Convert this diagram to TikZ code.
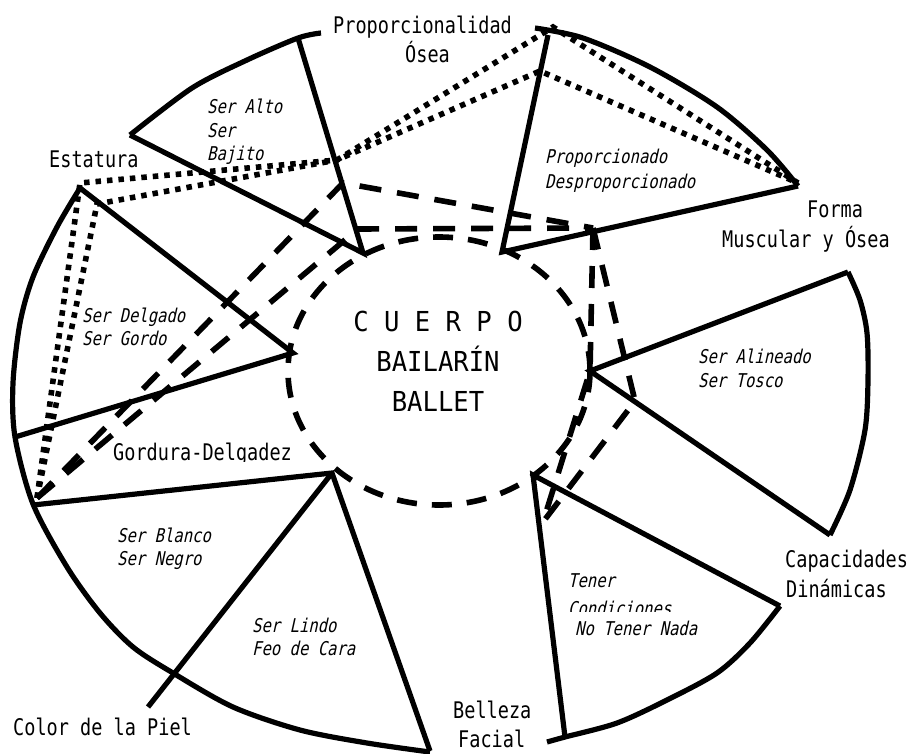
\documentclass[tikz,border=0pt]{standalone}
\usepackage{fontspec}
\newfontfamily\gothic[FakeStretch=0.81]{DejaVu Sans Mono}
\newfontfamily\gothicsl[FakeStretch=0.82,FakeSlant=0.22]{DejaVu Sans Mono}
\newfontfamily\gothicwide[FakeStretch=0.93]{DejaVu Sans Mono}
\tikzset{
  solidln/.style={line width=5.2pt, line join=miter},
  arcln/.style={line width=5.2pt},
  dashln/.style={line width=5.6pt, dash pattern=on 22pt off 16pt},
  ellln/.style={line width=5.6pt, dash pattern=on 20pt off 15pt},
  dotln/.style={line width=5.6pt, dash pattern=on 5.5pt off 6pt},
  lbl/.style={inner sep=0pt, anchor=base west, font=\gothic\fontsize{22.9}{30}\selectfont},
  itl/.style={inner sep=0pt, anchor=base west, font=\gothicsl\fontsize{19}{24}\selectfont},
  ctr/.style={inner sep=0pt, anchor=base, font=\gothicwide\fontsize{27.5}{39}\selectfont},
}
\begin{document}
\begin{tikzpicture}[x=1pt,y=-1pt]
\fill[white] (0,0) rectangle (909,753);
\useasboundingbox (0,0) rectangle (909,753);
% wedge points
\coordinate (Ea) at (363,253);
\coordinate (E1) at (130,135);
\coordinate (E2) at (298,38);
\coordinate (Pa) at (502,252);
\coordinate (P1) at (548,35);
\coordinate (P2) at (798,186);
\coordinate (Fa) at (590,371);
\coordinate (F1) at (848,272);
\coordinate (F2) at (830,535);
\coordinate (Ca) at (533,475);
\coordinate (C1) at (780,606);
\coordinate (C2) at (565,737);
\coordinate (Ga) at (293,353);
\coordinate (G1) at (80,188);
\coordinate (G2) at (15,437);
\coordinate (Ba) at (332,473);
\coordinate (B1) at (33,505);
\coordinate (B2) at (430,751);
\coordinate (B3) at (148,707);
% dotted points
\coordinate (B) at (37,498);
\coordinate (D1) at (80,183);
\coordinate (D2) at (97,204);
\coordinate (X) at (337,160);
\coordinate (T1) at (553,27);
\coordinate (T2) at (540,71);
\coordinate (T3) at (798,183);
% dashed points
\coordinate (K1) at (343,183);
\coordinate (K2) at (358,229);
\coordinate (R) at (593,228);
\coordinate (Q) at (635,401);
\coordinate (V) at (543,522);
\coordinate (O) at (439,371);

% arcs
\draw[arcln] plot[smooth] coordinates {(E1) (192,88) (247,60) (E2) (321,33)};
\draw[arcln] plot[smooth] coordinates {(535,28) (583,38) (650,67) (717,107) (767,150) (P2)};
\draw[arcln] plot[smooth] coordinates {(F1) (860,300) (867,333) (868,380) (865,430) (850,490) (F2)};
\draw[arcln] plot[smooth] coordinates {(C1) (750,643) (717,673) (667,700) (617,723) (C2) (547,742)};
\draw[arcln] plot[smooth] coordinates {(G1) (57,227) (33,277) (20,323) (13,383) (15,437) (33,504) (67,567) (100,613) (133,647) (173,673) (233,707) (300,730) (367,743) (430,752)};

% wedge sides
\draw[solidln] (E1) -- (Ea) -- (E2);
\draw[solidln] (P1) -- (Pa) -- (P2);
\draw[solidln] (F1) -- (Fa) -- (F2);
\draw[solidln] (C1) -- (Ca) -- (C2);
\draw[solidln] (G1) -- (Ga) -- (G2);
\draw[solidln] (B1) -- (Ba) -- (B2);
\draw[solidln] (Ba) -- (B3);

% dashed
\draw[ellln] (O) ellipse [x radius=151pt, y radius=134pt];
\draw[dashln] (B) -- (K1) -- (R);
\draw[dashln] (B) -- (K2) -- (R);
\draw[dashln] (R) -- (Fa) -- (V);
\draw[dashln] (R) -- (Q) -- (V);

% dotted
\draw[dotln] (B) -- (D1) -- (X) -- (T1) -- (T3);
\draw[dotln] (B) -- (D2) -- (X) -- (T2) -- (T3);

% labels
\node[lbl] (l1a) at (333,33) {Proporcionalidad};
\node[lbl] (l1b) at (405,62) {Ósea};
\node[lbl] (l2) at (49,167) {Estatura};
\node[lbl] (l3a) at (807,217) {Forma};
\node[lbl] (l3b) at (722,247) {Muscular y Ósea};
\node[lbl] (l4a) at (785,567) {Capacidades};
\node[lbl] (l4b) at (786,597) {Dinámicas};
\node[lbl] (l5a) at (453,718) {Belleza};
\node[lbl] (l5b) at (458,747) {Facial};
\node[lbl] (l6) at (13,735) {Color de la Piel};
\node[lbl] (l7) at (113,460) {Gordura-Delgadez};
\fill[white] (110,462) rectangle (292,468);

\node[ctr] (c1) at (438,331) {C U E R P O};
\node[ctr] (c2) at (438,371) {BAILARÍN};
\node[ctr] (c3) at (438,411) {BALLET};

\node[itl] (i1) at (207,113) {Ser Alto};
\node[itl] (i2) at (207,137) {Ser};
\node[itl] (i3) at (207,160) {Bajito};
\node[itl] (i4) at (545,163) {Proporcionado};
\node[itl] (i5) at (545,188) {Desproporcionado};
\node[itl] (i6) at (698,363) {Ser Alineado};
\node[itl] (i7) at (698,387) {Ser Tosco};
\node[itl] (i8) at (82,322) {Ser Delgado};
\node[itl] (i9) at (82,345) {Ser Gordo};
\node[itl] (i10) at (117,542) {Ser Blanco};
\node[itl] (i11) at (117,565) {Ser Negro};
\node[itl] (i12) at (252,632) {Ser Lindo};
\node[itl] (i13) at (252,655) {Feo de Cara};
\node[itl] (i14) at (568,587) {Tener};
\node[itl] (i15) at (568,615) {Condiciones};
\fill[white] (558,612) rectangle (705,640);
\node[itl] (i16) at (575,635) {No Tener Nada};
\end{tikzpicture}
\end{document}
